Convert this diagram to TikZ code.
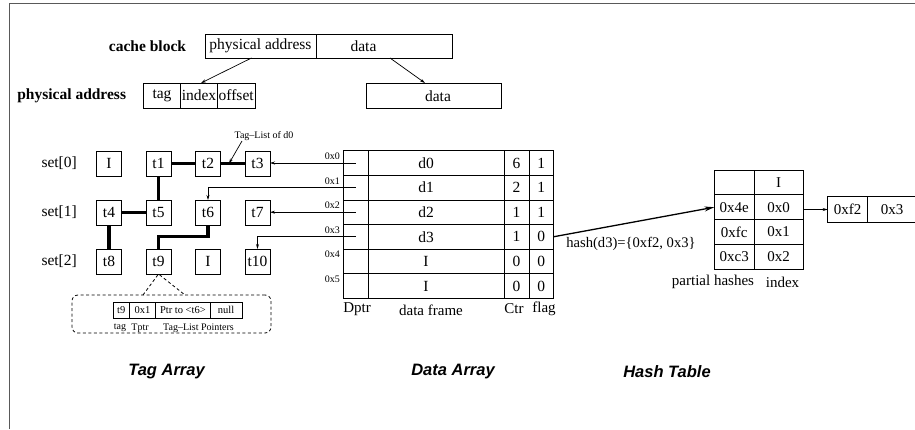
\documentclass[tikz,border=0pt]{standalone}
\usepackage{fontspec}
\setmainfont{Liberation Serif}
\newfontfamily\titlefont{Liberation Sans}
\usetikzlibrary{arrows.meta,calc}
\newcommand\myfs[1]{\fontsize{#1}{#1}\selectfont}
\begin{document}
\begin{tikzpicture}[x=1pt,y=-1pt,
  cellbox/.style={draw,line width=0.8pt,inner sep=0pt,outer sep=0pt,anchor=center,font=\myfs{15.5}},
  txt/.style={inner sep=0pt,font=\myfs{15.5}},
  small/.style={inner sep=0pt,font=\myfs{10}},
  tagbox/.style={cellbox,minimum width=25pt,minimum height=25pt},
  tlink/.style={line width=3.5pt},
  ptr/.style={line width=0.7pt,-{Stealth[length=5pt,width=3pt]}},
  titletxt/.style={inner sep=0pt,font=\titlefont\bfseries\itshape\myfs{16.5}},
  dsh/.style={line width=0.8pt,dash pattern=on 3pt off 2.5pt}
]
\useasboundingbox (0,0) rectangle (915,429);
\draw[line width=1.3pt,black!65] (9.5,429) -- (9.5,3.5) -- (915,3.5);

% ---- cache block ----
\node[txt,font=\myfs{15.5}\bfseries] (cbl) at (147.5,46) {cache block};
\node[cellbox,minimum width=111pt,minimum height=24pt] (cpa) at (260.5,46) {physical address};
\node[cellbox,minimum width=136.3pt,minimum height=24pt] (cdata) at (384.2,46) {};
\node[txt] (cdatat) at (363.5,46) {data};

\node[txt,font=\myfs{15.5}\bfseries] (pal) at (71.7,96) {physical address};
\node[cellbox,minimum width=37.4pt,minimum height=25pt] (ptag) at (162,95.5) {tag};
\node[cellbox,minimum width=36.6pt,minimum height=25pt] (pidx) at (199,95.5) {index};
\node[cellbox,minimum width=37.7pt,minimum height=25pt] (poff) at (236.2,95.5) {offset};
\node[cellbox,minimum width=135.7pt,minimum height=25pt] (pdata) at (433.8,95.5) {};
\node[txt] (pdatat) at (438,96) {data};

\draw[ptr] ($(cpa.south)+(-9,0)$) -- ($(pidx.north)+(2,0)$);
\draw[ptr] ($(cdata.south)+(5.8,0)$) -- ($(pdata.north)+(-8.8,0)$);

% ---- tag array ----
\node[txt,anchor=east] (s0) at (77,163.5) {set[0]};
\node[txt,anchor=east] (s1) at (77,212.5) {set[1]};
\node[txt,anchor=east] (s2) at (77,261.5) {set[2]};

\node[tagbox] (i0) at (109,163.5) {I};
\node[tagbox] (t1) at (158.5,163.5) {t1};
\node[tagbox] (t2) at (208,163.5) {t2};
\node[tagbox] (t3) at (257.5,163.5) {t3};
\node[tagbox] (t4) at (109,212.5) {t4};
\node[tagbox] (t5) at (158.5,212.5) {t5};
\node[tagbox] (t6) at (208,212.5) {t6};
\node[tagbox] (t7) at (257.5,212.5) {t7};
\node[tagbox] (t8) at (109,261.5) {t8};
\node[tagbox] (t9) at (158.5,261.5) {t9};
\node[tagbox] (i2) at (208,261.5) {I};
\node[tagbox] (t10) at (257.5,261.5) {t10};

\draw[tlink] (t1) -- (t2);
\draw[tlink] (t2) -- (t3);
\draw[tlink] (t1) -- (t5);
\draw[tlink] (t4) -- (t5);
\draw[tlink] (t4) -- (t8);
\coordinate (bend) at (208,236.7);
\draw[tlink] (t6.south) -- (bend) -| (t9.north);

\node[small] (tll) at (264,136) {Tag--List of d0};
\coordinate (tls) at (242,141);
\coordinate (tlt) at (229,163.5);
\draw[ptr] (tls) -- (tlt);

% tag list entry
\node[draw,dsh,rounded corners=6pt,minimum width=199pt,minimum height=38pt,inner sep=0pt] (tlbox) at (171.5,314) {};
\coordinate (cl) at (143,295);
\coordinate (cr) at (185,295);
\draw[dsh] (cl) -- (t9.south) -- (cr);
\node[cellbox,font=\myfs{10.5},minimum width=16.3pt,minimum height=16pt] (lt0) at (121.2,310) {t9};
\node[cellbox,font=\myfs{10.5},minimum width=26.4pt,minimum height=16pt] (lt1) at (142.5,310) {0x1};
\node[cellbox,font=\myfs{10.5},minimum width=54.3pt,minimum height=16pt] (lt2) at (182.9,310) {Ptr to <t6>};
\node[cellbox,font=\myfs{10.5},minimum width=32pt,minimum height=16pt] (lt3) at (226,310) {null};
\node[small] (ltl0) at (120,328) {tag};
\node[small] (ltl1) at (140,328) {Tptr};
\node[small] (ltl2) at (198.5,328) {Tag--List Pointers};

% ---- data array ----
\foreach \i/\d/\c/\f in {0/d0/6/1,1/d1/2/1,2/d2/1/1,3/d3/1/0,4/I/0/0,5/I/0/0}{
  \pgfmathsetmacro\yy{163+24.6*\i}
  \pgfmathsetmacro\ya{150.7+24.6*\i+5.5}
  \node[cellbox,minimum width=25pt,minimum height=24.6pt] (dp\i) at (355.8,\yy) {};
  \node[cellbox,minimum width=135.7pt,minimum height=24.6pt] (df\i) at (436.2,\yy) {};
  \node[txt] (dft\i) at (426,\yy) {\d};
  \node[cellbox,minimum width=25pt,minimum height=24.6pt] (ct\i) at (516.5,\yy) {\c};
  \node[cellbox,minimum width=24.3pt,minimum height=24.6pt] (fl\i) at (541.2,\yy) {\f};
  \node[small,anchor=east] (ad\i) at (340,\ya) {0x\i};
}
\node[txt,font=\myfs{15}] (ldp) at (357,309) {Dptr};
\node[txt,font=\myfs{15}] (ldf) at (431,310) {data frame};
\node[txt,font=\myfs{15}] (lct) at (514,309) {Ctr};
\node[txt,font=\myfs{15}] (lfl) at (544,309) {flag};

\draw[ptr] (dp0.center) -- (dp0.center -| t3.east);
\draw[ptr] (dp1.center) -| (t6.north);
\draw[ptr] (dp2.center) -- (dp2.center -| t7.east);
\draw[ptr] (dp3.center) -| (t10.north);

% ---- hash table ----
\foreach \i/\a/\b in {0//I,1/0x4e/0x0,2/0xfc/0x1,3/0xc3/0x2}{
  \pgfmathsetmacro\yy{182.4+24.8*\i}
  \node[cellbox,font=\myfs{15},minimum width=39.7pt,minimum height=24.8pt] (hl\i) at (734.2,\yy) {\a};
  \node[cellbox,font=\myfs{15},minimum width=49.3pt,minimum height=24.8pt] (hr\i) at (778.7,\yy) {\b};
}
\node[txt,font=\myfs{15}] (lph) at (713,282) {partial hashes};
\node[txt,font=\myfs{15}] (lix) at (782.5,282) {index};

\draw[line width=1.3pt,-{Stealth[length=10pt,width=5pt]}] (fl3.east) -- (hl1.west);
\node[txt,font=\myfs{14.6}] (hlab) at (631,244) {hash(d3)=\{0xf2, 0x3\}};

\node[cellbox,font=\myfs{15},minimum width=40pt,minimum height=25.6pt] (bx0) at (847.7,209.5) {0xf2};
\node[cellbox,font=\myfs{15},minimum width=48.8pt,minimum height=25.6pt] (bx1) at (892.1,209.5) {0x3};
\draw[ptr] (hr1.east |- bx0.west) -- (bx0.west);

% ---- titles ----
\node[titletxt] (tta) at (166.5,372) {Tag Array};
\node[titletxt] (tda) at (453,372) {Data Array};
\node[titletxt] (tht) at (667,372) {Hash Table};
\end{tikzpicture}
\end{document}
